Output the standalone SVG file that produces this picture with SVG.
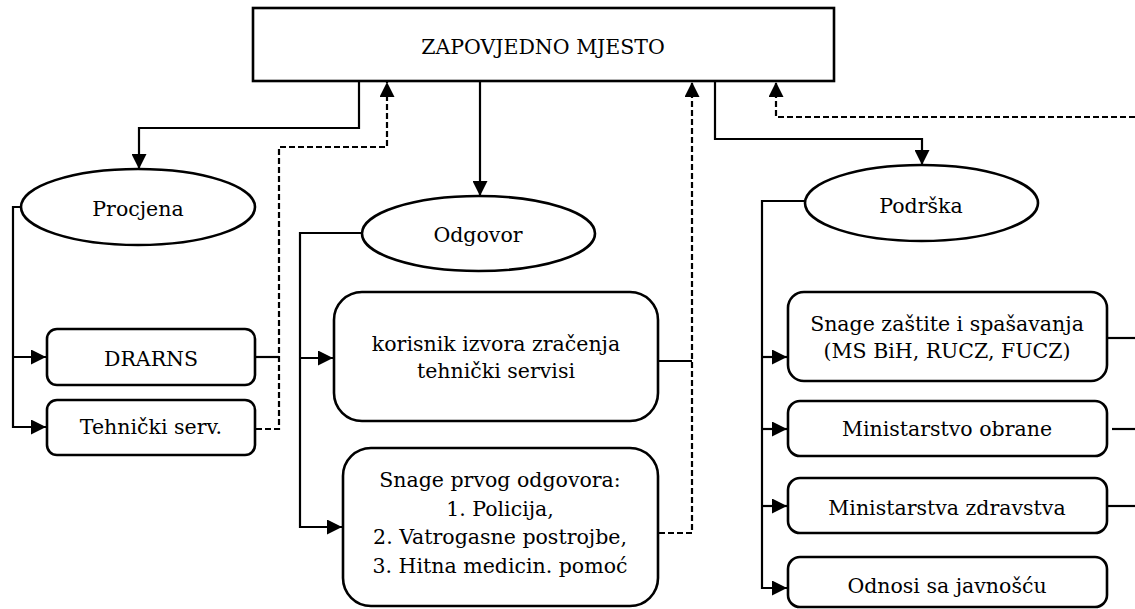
<svg xmlns="http://www.w3.org/2000/svg" width="1135" height="609" viewBox="0 0 1135 609">
<defs>
<style>
.box{fill:#fff;stroke:#000;stroke-width:2.6}
.ln{fill:none;stroke:#000;stroke-width:2.2}
.dash{fill:none;stroke:#000;stroke-width:2.2;stroke-dasharray:6,3}
text{font-family:"DejaVu Serif","Liberation Serif",serif;font-size:20.5px;fill:#000;text-anchor:middle}
</style>
<marker id="ah" markerUnits="userSpaceOnUse" markerWidth="15" markerHeight="15" refX="15" refY="7.5" orient="auto">
<path d="M0,0 L15,7.5 L0,15 z" fill="#000"/>
</marker>
</defs>
<g id="connectors">
<path class="ln" d="M359,81 V128 H139 V169" marker-end="url(#ah)"/>
<path class="ln" d="M480,81 V196" marker-end="url(#ah)"/>
<path class="ln" d="M715,81 V139 H922 V165" marker-end="url(#ah)"/>
<path class="dash" d="M256,429 H279 V147 H387 V82" marker-end="url(#ah)"/>
<path class="ln" d="M256,357 H279"/>
<path class="dash" d="M1135,117 H776 V82" marker-end="url(#ah)"/>
<path class="dash" d="M659,533 H692 V82" marker-end="url(#ah)"/>
<path class="ln" d="M659,361 H692"/>
<path class="ln" d="M21,207 H13 V427 H46" marker-end="url(#ah)"/>
<path class="ln" d="M13,357 H46" marker-end="url(#ah)"/>
<path class="ln" d="M362,233 H300 V527 H342" marker-end="url(#ah)"/>
<path class="ln" d="M300,358 H333" marker-end="url(#ah)"/>
<path class="ln" d="M805,201 H762 V588 H787" marker-end="url(#ah)"/>
<path class="ln" d="M762,357 H787" marker-end="url(#ah)"/>
<path class="ln" d="M762,429 H787" marker-end="url(#ah)"/>
<path class="ln" d="M762,506 H787" marker-end="url(#ah)"/>
<path class="ln" d="M1108,338 H1135"/>
<path class="ln" d="M1112,429 H1135"/>
<path class="ln" d="M1108,506 H1135"/>
</g>
<g id="zapovjedno">
<rect class="box" x="253" y="8" width="581" height="73"/>
<text x="543" y="54">ZAPOVJEDNO MJESTO</text>
</g>
<g id="procjena">
<ellipse class="box" cx="138" cy="207" rx="117" ry="38"/>
<text x="138" y="216">Procjena</text>
</g>
<g id="odgovor">
<ellipse class="box" cx="478.5" cy="233.5" rx="116.5" ry="37.5"/>
<text x="478" y="242">Odgovor</text>
</g>
<g id="podrska">
<ellipse class="box" cx="921.5" cy="203" rx="116.5" ry="38"/>
<text x="921" y="213">Podrška</text>
</g>
<g id="drarns">
<rect class="box" x="47" y="329" width="208" height="56" rx="10"/>
<text x="151" y="366">DRARNS</text>
</g>
<g id="tehnicki">
<rect class="box" x="47" y="400" width="208" height="55" rx="10"/>
<text x="151" y="434">Tehnički serv.</text>
</g>
<g id="korisnik">
<rect class="box" x="334" y="292" width="324" height="129" rx="28"/>
<text x="496" y="351">korisnik izvora zračenja</text>
<text x="496" y="378">tehnički servisi</text>
</g>
<g id="snage-prvog">
<rect class="box" x="343" y="448" width="315" height="158" rx="28"/>
<text x="500" y="487">Snage prvog odgovora:</text>
<text x="500" y="516">1. Policija,</text>
<text x="500" y="544">2. Vatrogasne postrojbe,</text>
<text x="500" y="573">3. Hitna medicin. pomoć</text>
</g>
<g id="snage-zastite">
<rect class="box" x="788" y="292" width="319" height="89" rx="16"/>
<text x="947" y="331">Snage zaštite i spašavanja</text>
<text x="947" y="358">(MS BiH, RUCZ, FUCZ)</text>
</g>
<g id="ministarstvo-obrane">
<rect class="box" x="788" y="401" width="319" height="55" rx="12"/>
<text x="947" y="436">Ministarstvo obrane</text>
</g>
<g id="ministarstva-zdravstva">
<rect class="box" x="788" y="478" width="319" height="55" rx="12"/>
<text x="947" y="515">Ministarstva zdravstva</text>
</g>
<g id="odnosi">
<rect class="box" x="788" y="557" width="319" height="50" rx="12"/>
<text x="947" y="593">Odnosi sa javnošću</text>
</g>
</svg>
